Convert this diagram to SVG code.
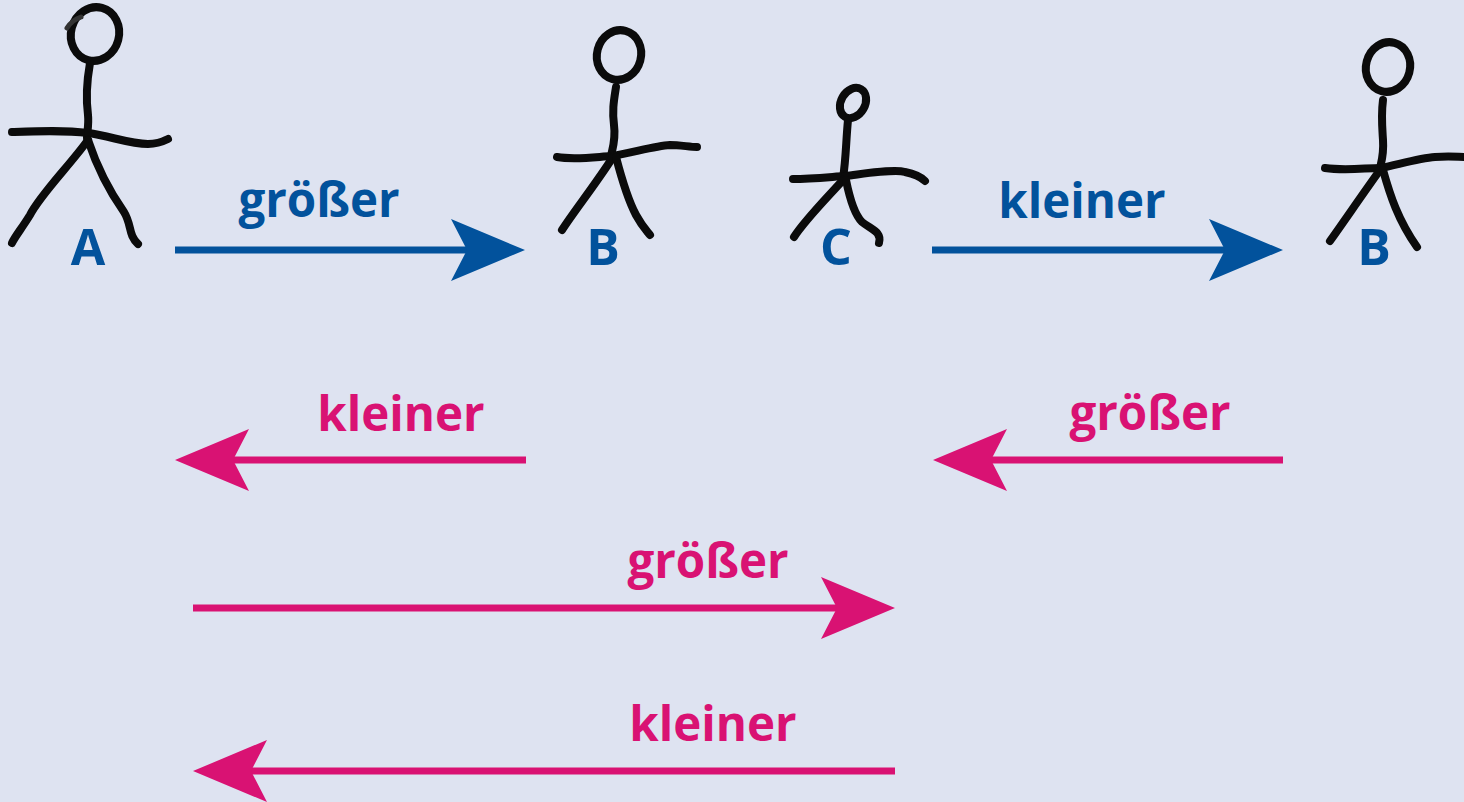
<svg xmlns="http://www.w3.org/2000/svg" width="1464" height="802" viewBox="0 0 1464 802">
  <style>
    .fig { fill: none; stroke: #0b0b0b; stroke-width: 8; stroke-linecap: round; stroke-linejoin: round; }
    .hair { fill: none; stroke: #333333; stroke-width: 5; stroke-linecap: round; }
    .lbl { font-family: "Open Sans", "Noto Sans", sans-serif; font-weight: 700; font-size: 50px; text-anchor: middle; }
    .word { font-size: 47.5px; }
    .blue { fill: #02529c; }
    .mag { fill: #d91273; }
    .shaft-blue { stroke: #02529c; stroke-width: 7; fill: none; }
    .shaft-mag { stroke: #d91273; stroke-width: 7; fill: none; }
  </style>
  <defs>
    <!-- arrowhead pointing right, tip at origin -->
    <path id="head" d="M0,0 L-74,-31 L-58,0 L-74,31 Z"/>
  </defs>

  <rect width="1464" height="802" fill="#dee3f1"/>

  <!-- stick figure A -->
  <g id="figA">
    <ellipse class="fig" cx="95" cy="34" rx="24" ry="27" transform="rotate(15 95 34)"/>
    <path class="hair" d="M67,28 Q72,20 81,17"/>
    <path class="fig" d="M90,63 C87,80 86,100 88,115 C89,125 87,132 87,138"/>
    <path class="fig" d="M12,132 C40,131 65,130 88,133"/>
    <path class="fig" d="M88,133 C110,136 130,144 148,144 C158,144 164,141 168,139"/>
    <path class="fig" d="M88,140 C70,165 40,195 30,215 C22,228 14,238 12,243"/>
    <path class="fig" d="M88,140 C98,170 112,195 124,212 C132,225 128,235 138,244"/>
    <text class="lbl blue" x="88" y="265">A</text>
  </g>

  <!-- stick figure B (left) -->
  <g id="figB1">
    <ellipse class="fig" cx="619" cy="55" rx="22" ry="25" transform="rotate(15 619 55)"/>
    <path class="fig" d="M616,87 C614,100 612,110 614,125 C616,140 612,150 611,156"/>
    <path class="fig" d="M557,157 C575,160 595,157 612,156"/>
    <path class="fig" d="M612,156 C635,152 655,146 670,145 C680,145 690,147 697,147"/>
    <path class="fig" d="M613,157 C595,185 575,210 562,230"/>
    <path class="fig" d="M616,157 C622,180 628,200 636,215 C642,226 646,230 650,235"/>
    <text class="lbl blue" x="603" y="265">B</text>
  </g>

  <!-- stick figure C -->
  <g id="figC">
    <ellipse class="fig" cx="853" cy="103" rx="12" ry="16" transform="rotate(30 853 103)"/>
    <path class="fig" d="M848,120 C846,140 846,160 843,178"/>
    <path class="fig" d="M793,179 C810,179 830,177 845,176"/>
    <path class="fig" d="M845,176 C870,173 895,169 905,172 C915,174 922,178 925,181"/>
    <path class="fig" d="M843,180 C825,200 805,220 794,237"/>
    <path class="fig" d="M846,180 C850,200 855,215 862,222 C872,230 882,232 879,243"/>
    <text class="lbl blue" x="836" y="265">C</text>
  </g>

  <!-- stick figure B (right) -->
  <g id="figB2">
    <ellipse class="fig" cx="1388" cy="67" rx="22" ry="25" transform="rotate(15 1388 67)"/>
    <path class="fig" d="M1383,100 C1381,115 1382,125 1383,140 C1384,155 1381,163 1380,168"/>
    <path class="fig" d="M1325,168 C1345,171 1365,168 1381,168"/>
    <path class="fig" d="M1381,168 C1400,164 1420,158 1435,157 C1450,156 1458,157 1468,157"/>
    <path class="fig" d="M1380,170 C1362,195 1345,220 1330,241"/>
    <path class="fig" d="M1383,170 C1390,195 1398,220 1417,247"/>
    <text class="lbl blue" x="1374" y="265">B</text>
  </g>

  <!-- connectors -->
  <g id="connectors">
    <!-- A größer B -->
    <line class="shaft-blue" x1="175" y1="250" x2="470" y2="250"/>
    <use href="#head" class="blue" transform="translate(525 250)"/>
    <text class="lbl word blue" x="319" y="217">größer</text>

    <!-- C kleiner B -->
    <line class="shaft-blue" x1="932" y1="250" x2="1226" y2="250"/>
    <use href="#head" class="blue" transform="translate(1283 250)"/>
    <text class="lbl word blue" x="1082" y="218">kleiner</text>

    <!-- B kleiner A -->
    <line class="shaft-mag" x1="232" y1="460" x2="526" y2="460"/>
    <use href="#head" class="mag" transform="translate(175 460) rotate(180)"/>
    <text class="lbl word mag" x="401" y="431">kleiner</text>

    <!-- B größer C -->
    <line class="shaft-mag" x1="990" y1="460" x2="1283" y2="460"/>
    <use href="#head" class="mag" transform="translate(933 460) rotate(180)"/>
    <text class="lbl word mag" x="1150" y="430">größer</text>

    <!-- A größer C -->
    <line class="shaft-mag" x1="193" y1="608" x2="838" y2="608"/>
    <use href="#head" class="mag" transform="translate(895 608)"/>
    <text class="lbl word mag" x="708" y="578">größer</text>

    <!-- C kleiner A -->
    <line class="shaft-mag" x1="250" y1="771" x2="895" y2="771"/>
    <use href="#head" class="mag" transform="translate(193 771) rotate(180)"/>
    <text class="lbl word mag" x="713" y="741">kleiner</text>
  </g>
</svg>
